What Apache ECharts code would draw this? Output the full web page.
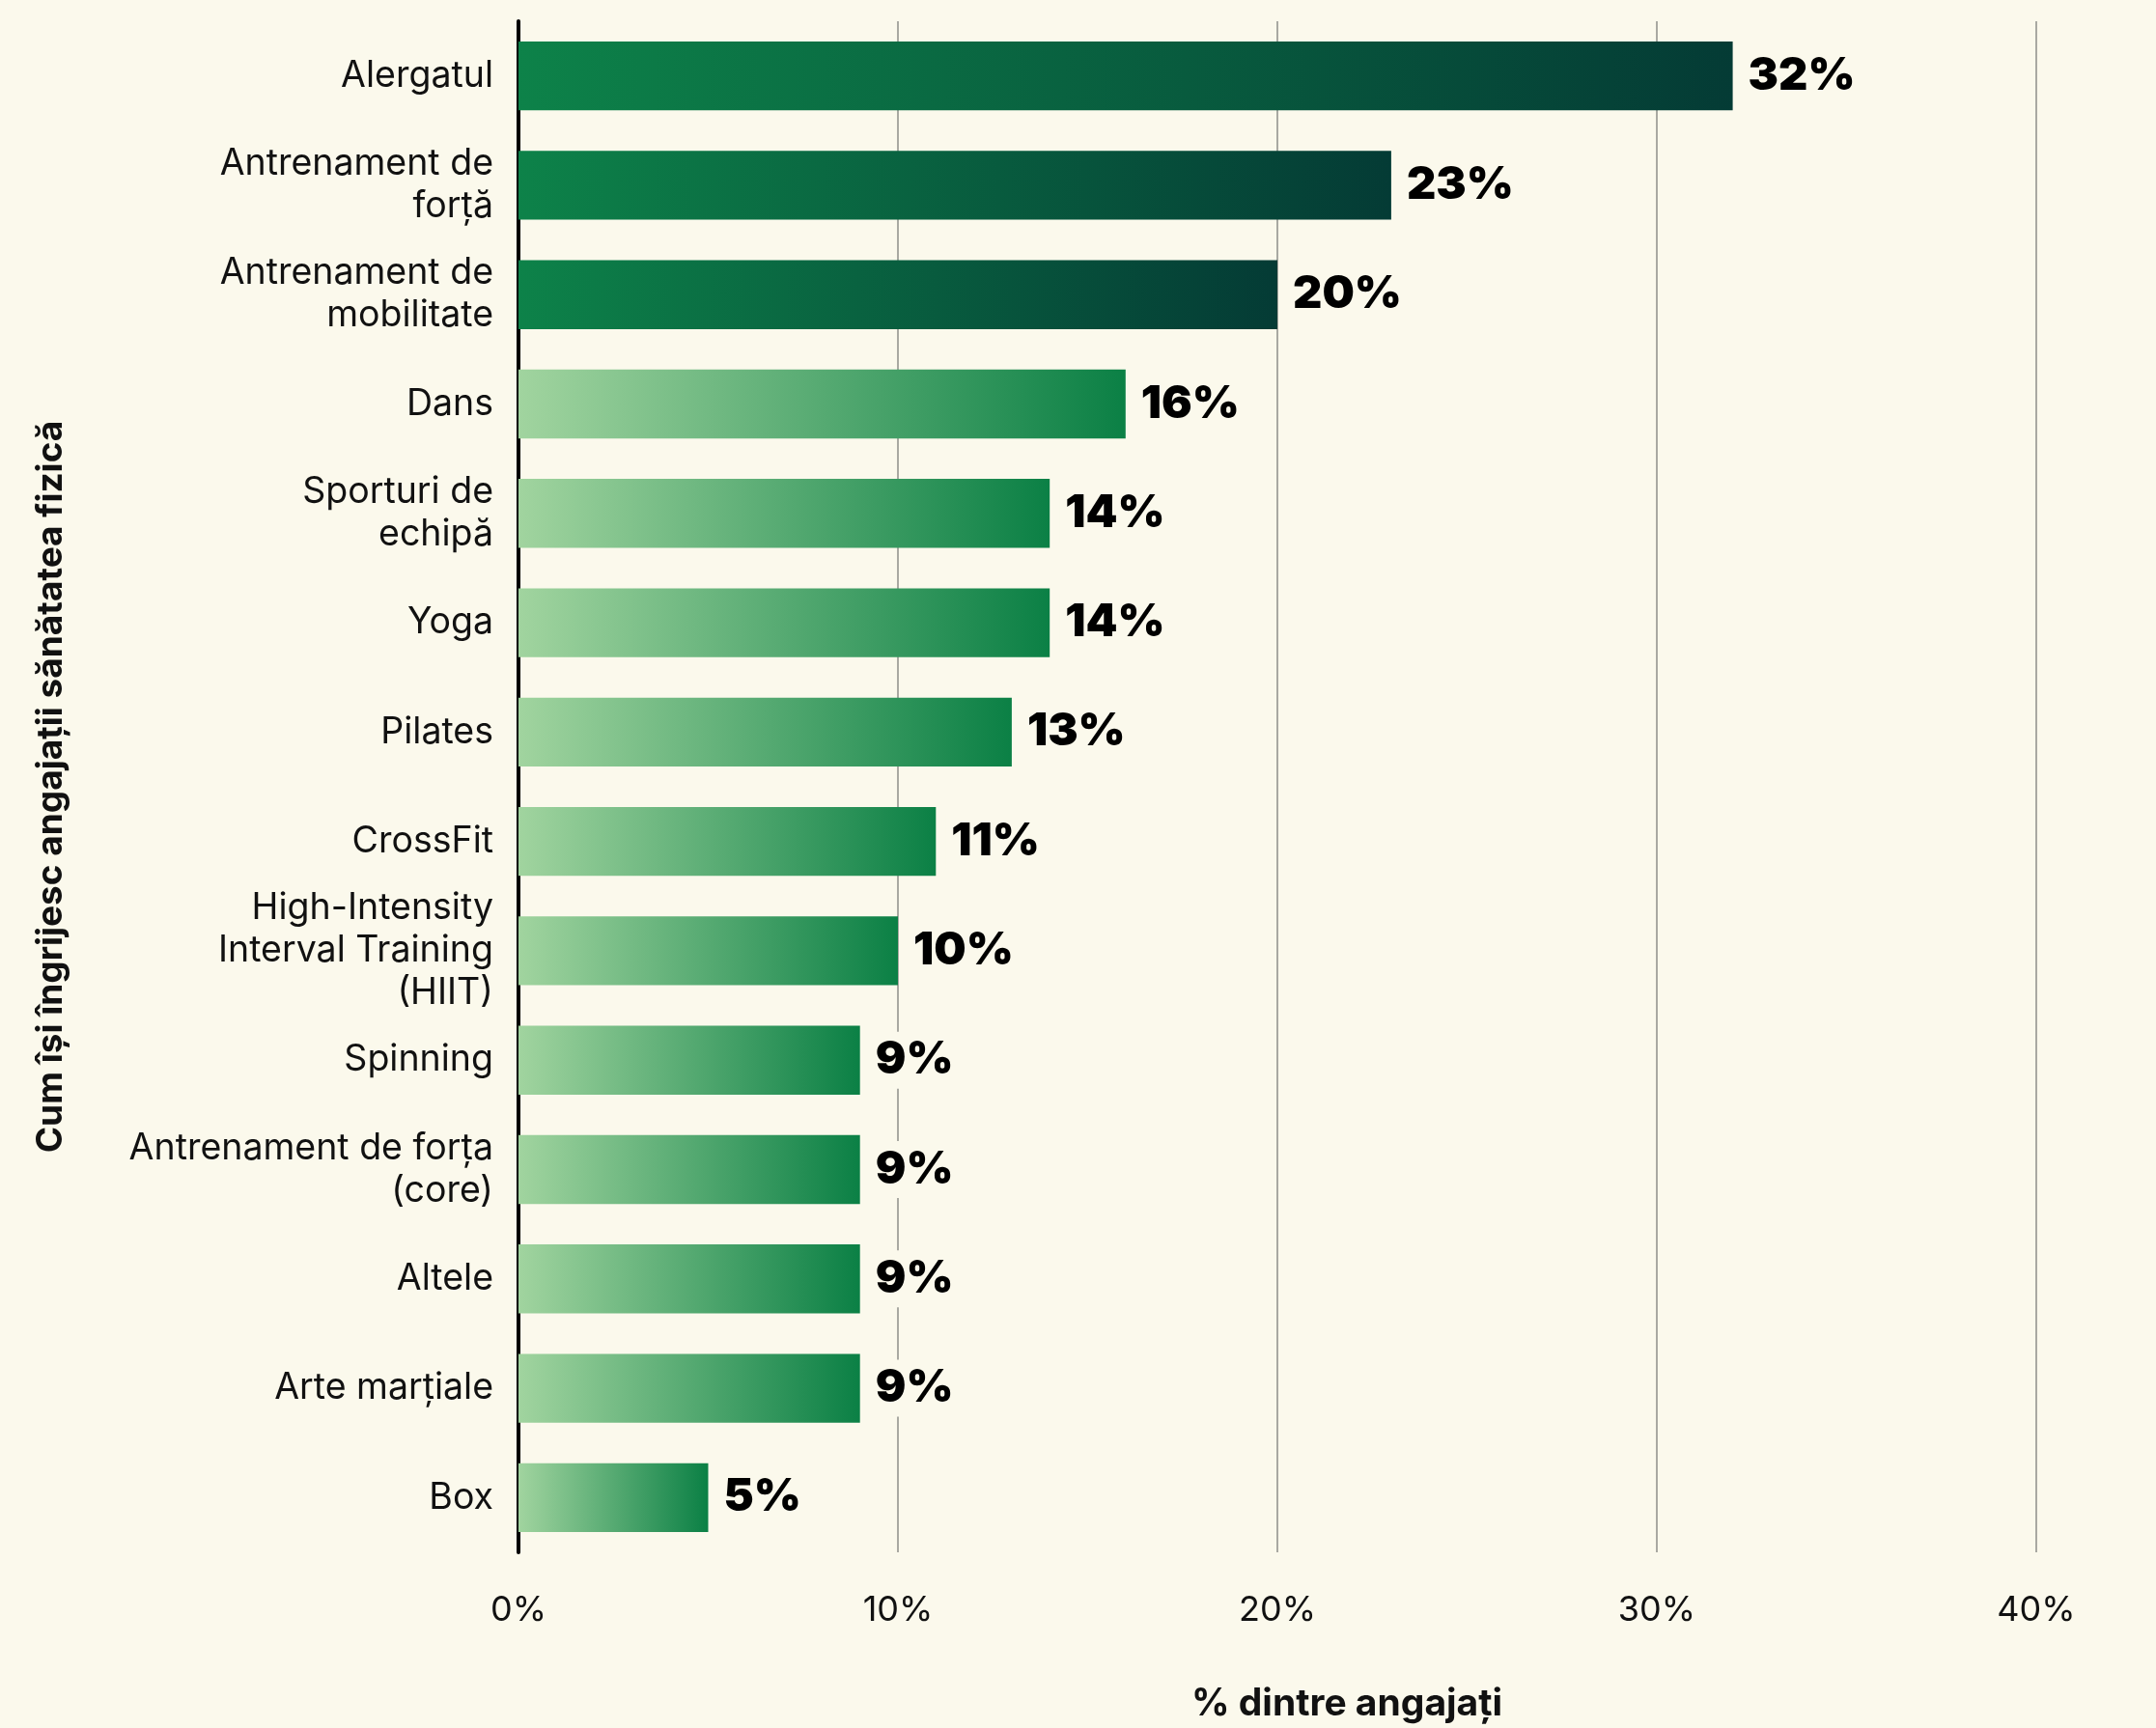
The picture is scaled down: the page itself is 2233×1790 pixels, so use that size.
<!DOCTYPE html>
<html>
<head>
<meta charset="utf-8">
<title>Cum își îngrijesc angajații sănătatea fizică</title>
<script src="https://cdn.jsdelivr.net/npm/echarts@6/dist/echarts.min.js"></script>
<style>
  html, body { margin: 0; padding: 0; background: #fbf9ec; }
  #chart { width: 2233px; height: 1790px; }
</style>
</head>
<body>
<div id="chart"></div>
<script>
// Activities, listed top to bottom
const categories = [
  'Alergatul',
  'Antrenament de\nforță',
  'Antrenament de\nmobilitate',
  'Dans',
  'Sporturi de\nechipă',
  'Yoga',
  'Pilates',
  'CrossFit',
  'High-Intensity\nInterval Training\n(HIIT)',
  'Spinning',
  'Antrenament de forța\n(core)',
  'Altele',
  'Arte marțiale',
  'Box'
];

// Share of employees (%)
const values = [32, 23, 20, 16, 14, 14, 13, 11, 10, 9, 9, 9, 9, 5];

// The three most popular activities get the dark palette
const highlighted = [true, true, true, false, false, false, false, false, false, false, false, false, false, false];

const xTicks = [0, 10, 20, 30, 40];

const BG = '#fbf9ec';
const FONT = 'Inter, "Noto Sans", sans-serif';

function barGradient(dark) {
  const stops = dark
    ? [{ offset: 0, color: '#0d8249' }, { offset: 1, color: '#043b35' }]
    : [{ offset: 0, color: '#a1d49f' }, { offset: 1, color: '#0b8045' }];
  return new echarts.graphic.LinearGradient(0, 0, 1, 0, stops);
}

const seriesData = values.map((v, i) => ({
  value: v,
  itemStyle: { color: barGradient(highlighted[i]) }
}));

const chart = echarts.init(document.getElementById('chart'), null, { renderer: 'canvas' });

chart.setOption({
  backgroundColor: BG,
  animation: false,
  textStyle: { fontFamily: FONT },
  grid: { left: 537, right: 124, top: 22, bottom: 180, containLabel: false },
  xAxis: {
    type: 'value',
    min: xTicks[0],
    max: xTicks[xTicks.length - 1],
    interval: xTicks[1] - xTicks[0],
    name: '% dintre angajați',
    nameLocation: 'middle',
    nameGap: 138,
    nameTextStyle: {
      fontFamily: FONT, fontSize: 39, fontWeight: 700, color: '#111',
      padding: [0, 0, 0, 144]
    },
    axisLine: { show: false },
    axisTick: { show: false },
    axisLabel: {
      formatter: '{value}%',
      fontFamily: FONT,
      fontSize: 36,
      color: '#111',
      margin: 42
    },
    splitLine: { show: true, lineStyle: { color: '#a9a9a2', width: 2 } }
  },
  yAxis: {
    type: 'category',
    data: categories,
    inverse: true,
    name: 'Cum își îngrijesc angajații sănătatea fizică',
    nameLocation: 'middle',
    nameGap: 466,
    nameRotate: 90,
    nameTextStyle: { fontFamily: FONT, fontSize: 37, fontWeight: 700, color: '#111' },
    axisLine: { show: true, lineStyle: { color: '#000', width: 4 } },
    axisTick: { show: false },
    axisLabel: {
      fontFamily: FONT,
      fontSize: 37.5,
      lineHeight: 44,
      color: '#111',
      margin: 26,
      align: 'right'
    },
    splitLine: { show: false }
  },
  series: [{
    type: 'bar',
    data: seriesData,
    barWidth: '63%',
    label: {
      show: true,
      position: 'right',
      distance: 10,
      formatter: '{c}%',
      fontFamily: FONT,
      fontSize: 47,
      fontWeight: 900,
      color: '#000',
      backgroundColor: BG,
      padding: [6, 6]
    }
  }]
});
</script>
</body>
</html>
